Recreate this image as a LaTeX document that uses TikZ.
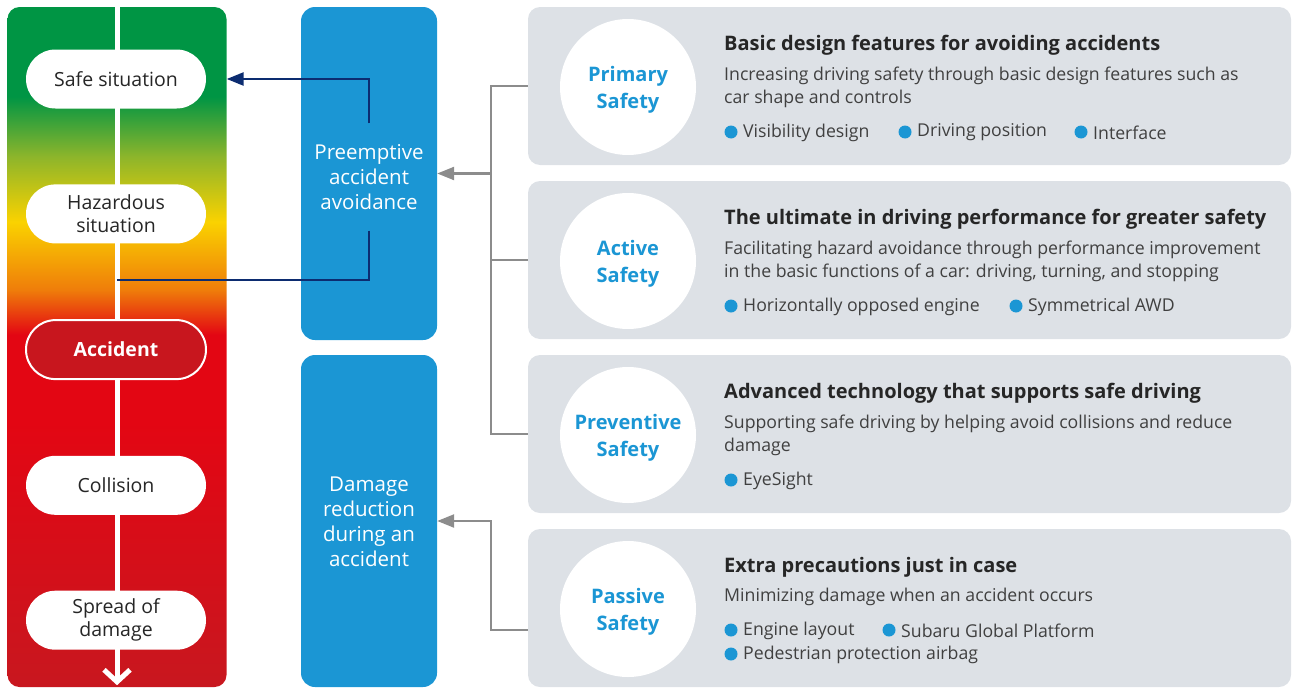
\documentclass[tikz,border=0pt]{standalone}
\usepackage{fontspec}
\setmainfont{Open Sans}
\usetikzlibrary{positioning,shapes.misc,arrows.meta}

\definecolor{safeblue}{HTML}{1B96D4}
\definecolor{panelgray}{HTML}{DDE1E6}
\definecolor{linknavy}{HTML}{0C2C70}
\definecolor{linkgray}{HTML}{8C8C8C}
\definecolor{textdark}{HTML}{262626}
\definecolor{textmid}{HTML}{404040}
\definecolor{accred}{HTML}{C8161E}
\definecolor{bargreen}{HTML}{009544}
\definecolor{barolive}{HTML}{8DB52B}
\definecolor{baryellow}{HTML}{FAD200}
\definecolor{barorange}{HTML}{EF7D0A}
\definecolor{barred}{HTML}{E30613}
\definecolor{bardark}{HTML}{C8171F}

\pgfdeclareverticalshading{riskbar}{100bp}{color(0bp)=(bardark); color(25bp)=(bardark);
  color(44.6bp)=(barred); color(50.9bp)=(barred); color(54.2bp)=(barorange);
  color(59.2bp)=(baryellow); color(64bp)=(barolive); color(68.4bp)=(bargreen);
  color(100bp)=(bargreen)}

\begin{document}
\begin{tikzpicture}[x=1pt,y=-1pt,
    pill/.style={rounded rectangle, fill=white, minimum width=180pt, minimum height=59pt,
      inner sep=0pt, align=center, text=textdark, font=\fontsize{19.5}{23}\selectfont},
    accpill/.style={fill=accred, draw=white, line width=2pt, text=white,
      font=\fontsize{19.5}{23}\selectfont\bfseries},
    stagebox/.style={fill=safeblue, rounded corners=14pt, minimum width=136pt, inner sep=0pt},
    stagetext/.style={text=white, align=center, inner sep=0pt, font=\fontsize{20.5}{25}\selectfont},
    panel/.style={fill=panelgray, rounded corners=12pt, minimum width=763pt, minimum height=158pt},
    badge/.style={circle, fill=white, minimum size=136pt, inner sep=0pt},
    badgetext/.style={align=center, inner sep=0pt, text=safeblue,
      font=\fontsize{20}{27}\selectfont\bfseries},
    paneltitle/.style={anchor=base west, inner sep=0pt, text=textdark,
      font=\fontsize{20}{23}\selectfont\bfseries},
    paneldesc/.style={anchor=base west, inner sep=0pt, align=left, text=textmid,
      font=\fontsize{17.7}{23.5}\selectfont},
    itemtext/.style={anchor=west, inner sep=0pt, text=textmid, font=\fontsize{17.7}{21}\selectfont},
    flowline/.style={draw=white, line width=5pt, -{Straight Barb[length=12pt,width=26pt]}},
    navylink/.style={draw=linknavy, line width=2.6pt},
    navyarrow/.style={navylink, -{Triangle[length=17pt,width=13pt]}},
    grayline/.style={draw=linkgray, line width=2.4pt},
    grayarrow/.style={grayline, -{Triangle[length=17pt,width=13pt]}}]
  \useasboundingbox (0,0) rectangle (1297,688);

  % situation bar
  \node[shading=riskbar, rounded corners=12pt, minimum width=219pt, minimum height=680pt,
    inner sep=0pt] (bar) at (117,347) {};
  \draw[flowline] (bar.north) -- ([yshift=2pt]bar.south);
  \node[pill] (safe) at (116,79) {Safe situation};
  \node[pill, below=75.5pt of safe] (hazard) {Hazardous\\situation};
  \node[pill, accpill, below=75.5pt of hazard] (accident) {Accident};
  \node[pill, below=75.5pt of accident] (collision) {Collision};
  \node[pill, below=75.5pt of collision] (spread) {Spread of\\damage};

  % the two stages
  \node[stagebox, minimum height=333pt] (pre) at (369,173.5) {};
  \node[stagetext, minimum height=107pt] (pretext) at ([yshift=-3.5pt]pre.center) {Preemptive\\accident\\avoidance};
  \node[stagebox, minimum height=332pt] (dmg) at (369,521) {};
  \node[stagetext] (dmgtext) at ([yshift=-1pt]dmg.center) {Damage\\reduction\\during an\\accident};

  \coordinate (hazardpt) at (117,280);
  \draw[navyarrow] (pretext.north) |- (bar.east |- safe);
  \draw[navylink] (pretext.south) |- (hazardpt);

  % safety panels
  \foreach \pname/\py/\plabel in {primary/86/Primary, active/260/Active,
      preventive/434/Preventive, passive/608/Passive}{
    \node[panel] (\pname) at (909.5,\py) {};
    \node[badge] (\pname-badge) at (628,\py+1) {};
    \node[badgetext] (\pname-label) at ([yshift=-3pt]\pname-badge.center) {\plabel\\Safety};
  }

  \node[paneltitle] (primary-title) at (724,50) {Basic design features for avoiding accidents};
  \node[paneldesc] (primary-desc) at (724,103.5) {Increasing driving safety through basic design features such as\\car shape and controls};
  \node[paneltitle] (active-title) at (724,224) {The ultimate in driving performance for greater safety};
  \node[paneldesc] (active-desc) at (724,277.5) {Facilitating hazard avoidance through performance improvement\\in the basic functions of a car: driving, turning, and stopping};
  \node[paneltitle] (preventive-title) at (724,398) {Advanced technology that supports safe driving};
  \node[paneldesc] (preventive-desc) at (724,451.5) {Supporting safe driving by helping avoid collisions and reduce\\damage};
  \node[paneltitle] (passive-title) at (724,572) {Extra precautions just in case};
  \node[paneldesc] (passive-desc) at (724,601.5) {Minimizing damage when an accident occurs};

  \foreach \bx/\by/\btext in {731/132/Visibility design, 905/132/Driving position,
      1081/132/Interface, 731/306/Horizontally opposed engine, 1016/306/Symmetrical AWD,
      731/480/EyeSight, 731/630/Engine layout, 889/630/Subaru Global Platform,
      731/654/Pedestrian protection airbag}{
    \fill[safeblue] (\bx,\by) circle (6.5pt);
    \node[itemtext] (item-\bx-\by) at (\bx+12,\by+0.5) {\btext};
  }

  % links from panels to stages
  \coordinate (bus) at (491,86);
  \draw[grayline] (primary.west) -| (bus) |- (preventive.west);
  \draw[grayline] (active.west) -- (active.west -| bus);
  \draw[grayarrow] (pre.east -| bus) -- (pre.east);
  \draw[grayarrow] ([yshift=-22pt]passive.west) -| (bus |- dmg.east) -- (dmg.east);
\end{tikzpicture}
\end{document}
